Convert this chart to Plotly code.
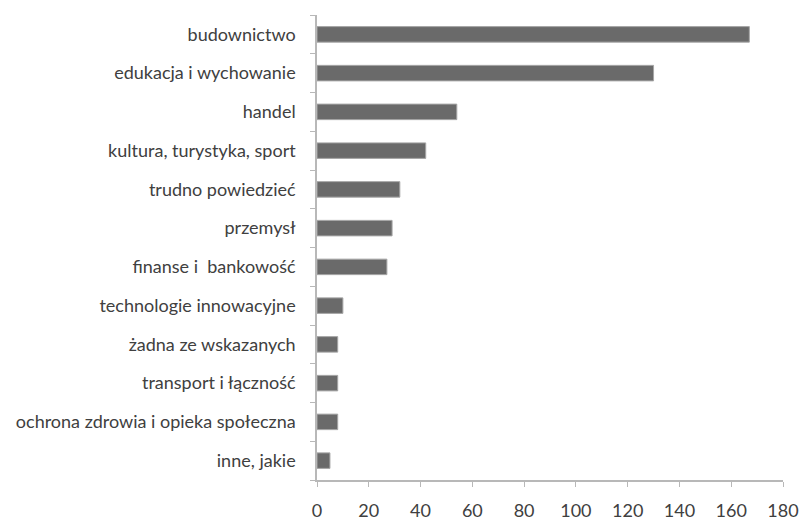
import plotly.graph_objects as go

categories = [
    "budownictwo",
    "edukacja i wychowanie",
    "handel",
    "kultura, turystyka, sport",
    "trudno powiedzieć",
    "przemysł",
    "finanse i\u00a0 bankowość",
    "technologie innowacyjne",
    "żadna ze wskazanych",
    "transport i łączność",
    "ochrona zdrowia i opieka społeczna",
    "inne, jakie",
]
values = [167, 130, 54, 42, 32, 29, 27, 10, 8, 8, 8, 5]
x_ticks = [0, 20, 40, 60, 80, 100, 120, 140, 160, 180]

fig = go.Figure(
    go.Bar(
        x=values,
        y=categories,
        orientation="h",
        marker=dict(color="#6a6a6a", line=dict(color="#a6a6a6", width=1)),
        hoverinfo="skip",
    )
)

fig.update_layout(
    width=800,
    height=520,
    margin=dict(l=317, r=17, t=15, b=40),
    paper_bgcolor="white",
    plot_bgcolor="white",
    bargap=0.6,
    showlegend=False,
    font=dict(family="Lato, Carlito, sans-serif", color="#404040"),
)
fig.update_xaxes(
    range=[0, 180],
    tickvals=x_ticks,
    automargin=False,
    ticklabeloverflow="allow",
    showgrid=False,
    zeroline=False,
    showline=True,
    linecolor="#b8b8b8",
    linewidth=1.5,
    ticks="outside",
    ticklen=5,
    tickcolor="#b8b8b8",
    tickfont=dict(size=18, color="#404040"),
    ticklabelstandoff=9,
)
fig.update_yaxes(
    categoryorder="array",
    categoryarray=categories[::-1],
    range=[-0.5, len(categories) - 0.5],
    automargin=False,
    showgrid=False,
    zeroline=False,
    showline=True,
    linecolor="#b8b8b8",
    linewidth=1.5,
    ticks="outside",
    tickson="boundaries",
    ticklen=5,
    tickcolor="#b8b8b8",
    tickfont=dict(size=18, color="#404040"),
    ticklabelstandoff=16,
)

fig.write_html(
    "out.html",
    config={"displayModeBar": False},
    post_script="document.body.style.margin='0';document.documentElement.style.overflow='hidden';",
)
